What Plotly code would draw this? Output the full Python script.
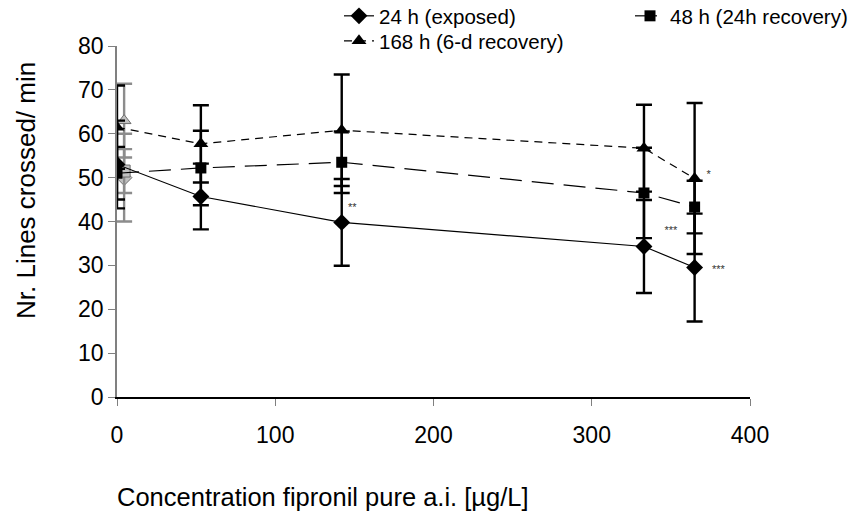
import plotly.graph_objects as go

# Concentrations (µg/L)
conc = [0, 53, 142, 333, 365]
ctrl_x = [4.5]  # solvent control position

# 24 h (exposed)
y24 = [53.0, 45.7, 39.8, 34.3, 29.5]
e24 = [10.0, 7.5, 9.9, 10.6, 12.3]
# 48 h (24h recovery)
y48 = [51.0, 52.2, 53.5, 46.5, 43.3]
e48 = [6.0, 8.5, 7.0, 10.3, 6.0]
# 168 h (6-d recovery)
y168 = [61.5, 57.7, 60.8, 56.7, 49.8]
e168 = [9.5, 8.8, 12.7, 9.9, 17.2]

# solvent control (grey markers)
c24, ce24 = [50.0], [10.0]
c48, ce48 = [51.5], [5.0]
c168, ce168 = [63.0], [8.4]

# significance labels
sig_x = [146, 346, 376, 372.5]
sig_y = [43.1, 37.7, 28.8, 50.6]
sig_t = ["**", "***", "***", "*"]

FONT = "Liberation Sans, Arial, sans-serif"

fig = go.Figure()

def err(arr, color="black"):
    return dict(type="data", array=arr, visible=True, color=color, thickness=2.4, width=8)

# grey control markers with grey error bars
for yy, ee, sym in [(c168, ce168, "triangle-up"), (c24, ce24, "diamond"), (c48, ce48, "square")]:
    fig.add_trace(go.Scatter(
        x=ctrl_x, y=yy, mode="markers", showlegend=False,
        error_y=err(ee, "#8c8c8c"),
        marker=dict(symbol=sym, size=12, color="#c0c0c0", line=dict(color="#6e6e6e", width=1)),
    ))

fig.add_trace(go.Scatter(
    x=conc, y=y24, mode="lines+markers", name="24 h (exposed)", legend="legend",
    line=dict(color="black", width=1.2, dash="solid"),
    marker=dict(symbol="diamond", size=13, color="black"),
    error_y=err(e24),
))
fig.add_trace(go.Scatter(
    x=conc, y=y48, mode="lines+markers", name="48 h (24h recovery)", legend="legend2",
    line=dict(color="black", width=1.2, dash="22px,10px"),
    marker=dict(symbol="square", size=11, color="black"),
    error_y=err(e48),
))
fig.add_trace(go.Scatter(
    x=conc, y=y168, mode="lines+markers", name="168 h (6-d recovery)", legend="legend3",
    line=dict(color="black", width=1.2, dash="8px,6px"),
    marker=dict(symbol="triangle-up", size=13, color="black"),
    error_y=err(e168),
))

fig.add_trace(go.Scatter(
    x=sig_x, y=sig_y, mode="text", text=sig_t, showlegend=False,
    textposition="middle right", textfont=dict(family=FONT, size=11, color="#333333"),
))

leg_common = dict(
    orientation="h", xref="container", yref="container",
    xanchor="left", yanchor="middle",
    font=dict(family=FONT, size=20.5, color="black"),
    bgcolor="rgba(0,0,0,0)", borderwidth=0, itemwidth=30,
)

fig.update_layout(
    width=864, height=514,
    margin=dict(l=117, r=114, t=46, b=117, autoexpand=False),
    paper_bgcolor="white", plot_bgcolor="white",
    font=dict(family=FONT, color="black"),
    showlegend=True,
    legend=dict(leg_common, x=339 / 864, y=1 - 16 / 514),
    legend2=dict(leg_common, x=630 / 864, y=1 - 16 / 514),
    legend3=dict(leg_common, x=339 / 864, y=1 - 41 / 514),
    xaxis=dict(
        range=[0, 400], tickvals=[0, 100, 200, 300, 400],
        showgrid=False, zeroline=False,
        showline=True, linecolor="black", linewidth=1.5,
        ticks="outside", ticklen=7, tickcolor="#808080", tickwidth=1.2,
        ticklabelstandoff=10,
        tickfont=dict(family=FONT, size=23, color="black"),
    ),
    yaxis=dict(
        range=[0, 80], tickvals=[0, 10, 20, 30, 40, 50, 60, 70, 80],
        showgrid=False, zeroline=False,
        showline=True, linecolor="#808080", linewidth=1.5,
        ticks="outside", ticklen=7, tickcolor="#808080", tickwidth=1.2,
        tickfont=dict(family=FONT, size=23, color="black"),
    ),
    annotations=[
        dict(text="Concentration fipronil pure a.i. [µg/L]", xref="paper", yref="paper",
             x=(323 - 117) / 633, y=(397 - 497) / 351, xanchor="center", yanchor="middle",
             showarrow=False, font=dict(family=FONT, size=25.5, color="black")),
        dict(text="Nr. Lines crossed/ min", xref="paper", yref="paper", textangle=-90,
             x=(26 - 117) / 633, y=(397 - 191) / 351, xanchor="center", yanchor="middle",
             showarrow=False, font=dict(family=FONT, size=26, color="black")),
    ],
)

fig.write_html("out.html")
